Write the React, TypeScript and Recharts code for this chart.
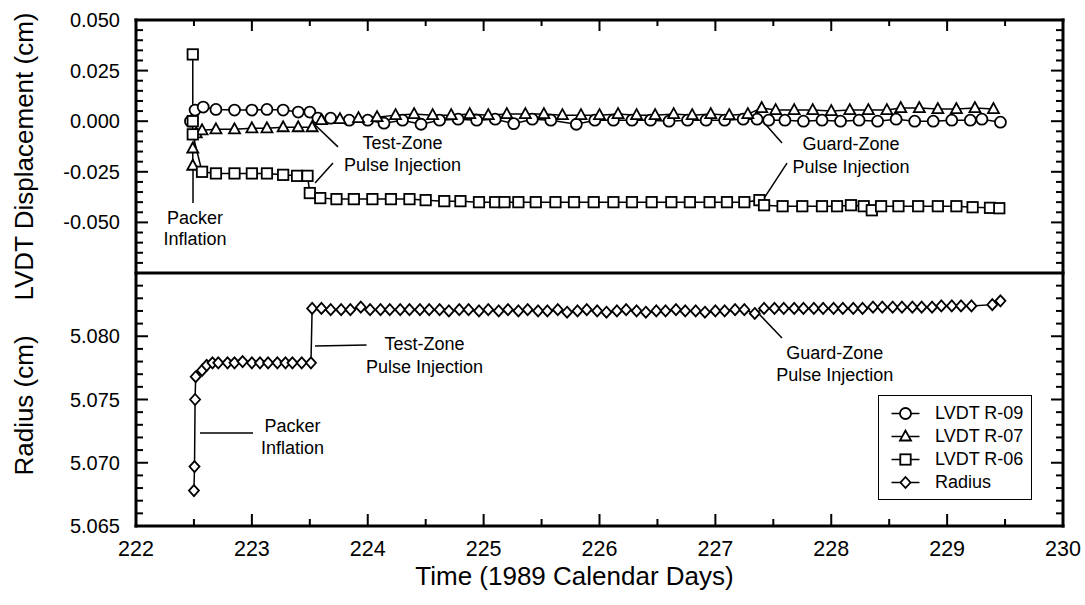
import React from 'react';
import { LineChart, Line, XAxis, YAxis, ReferenceLine, ReferenceDot, Legend } from 'recharts';

const FONT = '"Liberation Sans", Arial, Helvetica, sans-serif';

// ---- data (days are 1989 calendar days) ----
const r09Days = [
  222.47, 222.51, 222.58, 222.69, 222.85, 223.0, 223.13, 223.27, 223.4, 223.5,
  223.57, 223.68, 223.84, 224.0, 224.14, 224.3, 224.46, 224.62, 224.78, 224.94,
  225.1, 225.26, 225.42, 225.58, 225.8, 225.96, 226.12, 226.28, 226.44, 226.6,
  226.76, 226.92, 227.08, 227.24, 227.36, 227.46, 227.6, 227.76, 227.92, 228.08,
  228.24, 228.4, 228.56, 228.72, 228.88, 229.04, 229.2, 229.3, 229.46,
];
const r09Disp = [
  0.0, 0.0055, 0.007, 0.0058, 0.0055, 0.0055, 0.0058, 0.0055, 0.0045, 0.0045,
  0.0015, 0.0015, 0.0005, 0.0005, -0.001, 0.0005, -0.0015, 0.0005, 0.001, 0.0005,
  0.001, -0.0012, 0.001, 0.0005, -0.0015, 0.0005, 0.0005, 0.0005, 0.0005, 0.0,
  0.0005, 0.0005, 0.0005, 0.001, 0.001, 0.0005, 0.0005, 0.0, 0.0005, 0.0,
  0.0005, 0.0, 0.001, 0.0, 0.0, 0.0005, 0.0005, 0.001, -0.0005,
];

const r07Days = [
  222.49, 222.49, 222.52, 222.57, 222.69, 222.85, 223.0, 223.13, 223.27, 223.4, 223.52,
  223.6, 223.76, 223.92, 224.08, 224.24, 224.4, 224.56, 224.72, 224.88, 225.04,
  225.2, 225.36, 225.52, 225.68, 225.84, 226.0, 226.16, 226.32, 226.48, 226.64,
  226.8, 226.96, 227.12, 227.28, 227.4, 227.52, 227.68, 227.84, 228.0, 228.16,
  228.32, 228.48, 228.6, 228.76, 228.92, 229.08, 229.24, 229.4,
];
const r07Disp = [
  -0.022, -0.0135, -0.006, -0.0045, -0.004, -0.004, -0.0035, -0.0035, -0.003, -0.003, -0.003,
  0.0005, 0.001, 0.0015, 0.002, 0.003, 0.0035, 0.003, 0.003, 0.0035, 0.003,
  0.0035, 0.0035, 0.0035, 0.003, 0.003, 0.003, 0.0035, 0.003, 0.003, 0.0035,
  0.003, 0.0035, 0.003, 0.0035, 0.0065, 0.0055, 0.0055, 0.0055, 0.005, 0.0055,
  0.0055, 0.0055, 0.0065, 0.0065, 0.006, 0.006, 0.0065, 0.006,
];

const r06Days = [
  222.49, 222.49, 222.49, 222.57, 222.69, 222.85, 223.0, 223.13, 223.27, 223.39, 223.48, 223.5,
  223.59, 223.73, 223.88, 224.04, 224.2, 224.36, 224.5, 224.66, 224.8, 224.96,
  225.1, 225.18, 225.3, 225.45, 225.62, 225.78, 225.95, 226.12, 226.28, 226.45,
  226.62, 226.78, 226.95, 227.1, 227.25, 227.38, 227.42, 227.58, 227.75, 227.92,
  228.05, 228.17, 228.28, 228.35, 228.43, 228.58, 228.75, 228.92, 229.08, 229.22,
  229.37, 229.45,
];
const r06Disp = [
  0.033, 0.0, -0.0065, -0.025, -0.0258, -0.0258, -0.0258, -0.0258, -0.0265, -0.027, -0.027, -0.0355,
  -0.038, -0.0385, -0.0385, -0.0385, -0.0385, -0.0385, -0.039, -0.0395, -0.0395, -0.04,
  -0.04, -0.04, -0.04, -0.04, -0.04, -0.04, -0.04, -0.04, -0.04, -0.04,
  -0.04, -0.04, -0.04, -0.04, -0.04, -0.039, -0.0415, -0.042, -0.042, -0.042,
  -0.042, -0.0415, -0.042, -0.044, -0.042, -0.042, -0.042, -0.042, -0.042, -0.0425,
  -0.0428, -0.043,
];

const radiusDays = [
  222.5, 222.505, 222.51, 222.515, 222.57, 222.61, 222.66, 222.71, 222.79, 222.85,
  222.92, 223.0, 223.07, 223.14, 223.22, 223.29, 223.35, 223.43, 223.51,
  223.52, 223.6, 223.68, 223.77, 223.85, 223.94,
  224.02, 224.11, 224.19, 224.28, 224.36, 224.45, 224.53, 224.62, 224.7, 224.79, 224.87, 224.96,
  225.04, 225.13, 225.21, 225.3, 225.38, 225.47, 225.55, 225.64, 225.72, 225.81, 225.89, 225.98,
  226.06, 226.15, 226.23, 226.32, 226.4, 226.49, 226.57, 226.66, 226.74, 226.83, 226.91,
  227.0, 227.08, 227.17, 227.25, 227.34, 227.42, 227.51, 227.59, 227.68, 227.76, 227.85, 227.93,
  228.02, 228.1, 228.19, 228.27, 228.36, 228.44, 228.53, 228.61, 228.7, 228.78, 228.87, 228.95,
  229.04, 229.12, 229.21, 229.39, 229.46,
];
const radiusCm = [
  5.0678, 5.0697, 5.075, 5.0768, 5.0773, 5.0777, 5.0779, 5.0779, 5.0779, 5.0779,
  5.078, 5.0779, 5.0779, 5.0779, 5.0779, 5.0779, 5.0779, 5.0779, 5.0779,
  5.0822, 5.0822, 5.0821, 5.0821, 5.0821, 5.0823,
  5.0821, 5.0821, 5.0821, 5.0821, 5.0821, 5.0821, 5.0821, 5.0821, 5.082, 5.0821, 5.0821, 5.082,
  5.0821, 5.082, 5.0821, 5.082, 5.0821, 5.082, 5.082, 5.0821, 5.0819, 5.082, 5.0821, 5.082,
  5.0819, 5.082, 5.0821, 5.082, 5.0819, 5.082, 5.082, 5.0821, 5.082, 5.082, 5.0819,
  5.082, 5.082, 5.0821, 5.0821, 5.0818, 5.0822, 5.0822, 5.0822, 5.0822, 5.0822, 5.0822, 5.0822,
  5.0822, 5.0822, 5.0822, 5.0822, 5.0823, 5.0823, 5.0823, 5.0823, 5.0823, 5.0823, 5.0823, 5.0824,
  5.0824, 5.0824, 5.0824, 5.0825, 5.0828,
];

// tick labels
const dayLabels = [222, 223, 224, 225, 226, 227, 228, 229, 230];
const lvdtLabels = [0.05, 0.025, 0, -0.025, -0.05];
const radiusLabels = [5.065, 5.07, 5.075, 5.08];

// annotations (text centre / leader ends in data units)
const topNotes = [
  { x: 222.51, y: -0.0478, text: 'Packer' },
  { x: 222.51, y: -0.0582, text: 'Inflation' },
  { x: 224.3, y: -0.0103, text: 'Test-Zone' },
  { x: 224.3, y: -0.0216, text: 'Pulse Injection' },
  { x: 228.17, y: -0.0108, text: 'Guard-Zone' },
  { x: 228.17, y: -0.0226, text: 'Pulse Injection' },
];
const topLeaders = [
  [[222.492, -0.0225], [222.492, -0.0404]],
  [[223.528, -0.0009], [223.743, -0.0127]],
  [[223.7, -0.0207], [223.545, -0.0305]],
  [[227.4, 0.0006], [227.575, -0.0108]],
  [[227.618, -0.0207], [227.428, -0.0374]],
];
const bottomNotes = [
  { x: 223.35, y: 5.07298, text: 'Packer' },
  { x: 223.35, y: 5.07117, text: 'Inflation' },
  { x: 224.49, y: 5.07939, text: 'Test-Zone' },
  { x: 224.49, y: 5.07757, text: 'Pulse Injection' },
  { x: 228.03, y: 5.07868, text: 'Guard-Zone' },
  { x: 228.03, y: 5.07694, text: 'Pulse Injection' },
];
const bottomLeaders = [
  [[222.552, 5.07235], [223.01, 5.07235]],
  [[223.545, 5.07923], [223.99, 5.0793]],
  [[227.36, 5.08192], [227.575, 5.07986]],
];

const zip = (xs: number[], ys: number[]) => xs.map((t, i) => ({ t, v: ys[i] }));

const steps = (from: number, to: number, step: number) => {
  const out: number[] = [];
  for (let v = from; v <= to + step / 2; v += step) out.push(Math.round(v * 1e6) / 1e6);
  return out;
};
const dayTicks = steps(222, 230, 0.5);
const lvdtTicks = steps(-0.075, 0.05, 0.005);
const radiusTicks = steps(5.065, 5.085, 0.001);

const isIn = (v: number, list: number[]) => list.some((m) => Math.abs(m - v) < 1e-7);

const frame = { stroke: '#000', strokeWidth: 3, strokeLinecap: 'square' as const };
const tickStroke = { stroke: '#000', strokeWidth: 2 };

const LeftTick = ({ x, y, payload, labels, digits }: any) => {
  const major = isIn(payload.value, labels);
  return (
    <g>
      <line x1={x} x2={x + (major ? 12 : 7)} y1={y} y2={y} {...tickStroke} />
      {major && (
        <text x={x - 16} y={y + 7} textAnchor="end" fontSize={20} fontFamily={FONT} fill="#000">
          {payload.value.toFixed(digits)}
        </text>
      )}
    </g>
  );
};

const RightTick = ({ x, y, payload, labels }: any) => {
  const major = isIn(payload.value, labels);
  return <line x1={x} x2={x - (major ? 12 : 7)} y1={y} y2={y} {...tickStroke} />;
};

const TopTick = ({ x, y, payload }: any) => {
  const major = isIn(payload.value, dayLabels);
  return <line x1={x} x2={x} y1={y} y2={y + (major ? 11 : 6)} {...tickStroke} />;
};

const BottomTick = ({ x, y, payload }: any) => {
  const major = isIn(payload.value, dayLabels);
  return (
    <g>
      <line x1={x} x2={x} y1={y} y2={y - (major ? 12 : 7)} {...tickStroke} />
      {major && (
        <text x={x} y={y + 30} textAnchor="middle" fontSize={21.5} fontFamily={FONT} fill="#000">
          {payload.value}
        </text>
      )}
    </g>
  );
};

const yTitle = (text: string, dy: number) => (props: any) => {
  const vb = props.viewBox || { y: 0, height: 0 };
  const cx = 33;
  const cy = vb.y + vb.height / 2 + dy;
  return (
    <text x={cx} y={cy} transform={`rotate(-90 ${cx} ${cy})`} textAnchor="middle" fontSize={26} fontFamily={FONT} fill="#000">
      {text}
    </text>
  );
};

const xTitle = (props: any) => {
  const vb = props.viewBox || { x: 0, y: 0, width: 0 };
  return (
    <text x={vb.x + vb.width / 2 - 25} y={vb.y + 59} textAnchor="middle" fontSize={26} fontFamily={FONT} fill="#000">
      Time (1989 Calendar Days)
    </text>
  );
};

const Marker = ({ cx, cy, kind }: any) => {
  if (cx == null || cy == null) return null;
  const s = { fill: '#fff', stroke: '#000', strokeWidth: 1.8 };
  if (kind === 'circle') return <circle cx={cx} cy={cy} r={5.5} {...s} />;
  if (kind === 'triangle')
    return <polygon points={`${cx},${cy - 6} ${cx - 5.5},${cy + 4} ${cx + 5.5},${cy + 4}`} {...s} />;
  if (kind === 'square') return <rect x={cx - 5.2} y={cy - 5.2} width={10.4} height={10.4} {...s} />;
  return <polygon points={`${cx},${cy - 5.5} ${cx + 5},${cy} ${cx},${cy + 5.5} ${cx - 5},${cy}`} {...s} />;
};

const dotOf = (kind: string) => (p: any) => <Marker key={`${kind}-${p.index}`} cx={p.cx} cy={p.cy} kind={kind} />;

const noteShape = (text: string) => (p: any) => (
  <text x={p.cx} y={p.cy + 6.5} textAnchor="middle" fontSize={18} fontFamily={FONT} fill="#000">
    {text}
  </text>
);

const legendItems = [
  { name: 'LVDT R-09', kind: 'circle' },
  { name: 'LVDT R-07', kind: 'triangle' },
  { name: 'LVDT R-06', kind: 'square' },
  { name: 'Radius', kind: 'diamond' },
];

const LegendBox = () => (
  <div
    style={{
      width: 154,
      height: 105,
      border: '1.5px solid #000',
      boxSizing: 'border-box',
      background: '#fff',
      paddingTop: 6,
      fontFamily: FONT,
      fontSize: 18,
      color: '#000',
    }}
  >
    {legendItems.map((it) => (
      <div key={it.name} style={{ display: 'flex', alignItems: 'center', height: 23 }}>
        <svg width={56} height={23} style={{ display: 'block' }}>
          <line x1={12.5} x2={40.5} y1={11.5} y2={11.5} stroke="#000" strokeWidth={1.5} />
          <Marker cx={26.5} cy={11.5} kind={it.kind} />
        </svg>
        <span style={{ lineHeight: '23px' }}>{it.name}</span>
      </div>
    ))}
  </div>
);

const line = { stroke: '#000', strokeWidth: 1.5 };

const App: React.FC = () => {
  return (
    <div style={{ position: 'absolute', left: 0, top: 0, width: 1085, height: 605, background: '#fff' }}>
      <div style={{ position: 'absolute', left: 0, top: 0 }}>
        <LineChart width={1085} height={320} margin={{ top: 10, right: 12, bottom: 47, left: 0 }}>
          <XAxis
            xAxisId="x"
            orientation="top"
            type="number"
            dataKey="t"
            domain={[222, 230]}
            allowDataOverflow
            ticks={dayTicks}
            interval={0}
            height={10}
            tickSize={0}
            tickMargin={0}
            tickLine={false}
            tick={(p: any) => <TopTick {...p} />}
            axisLine={frame}
          />
          <YAxis
            yAxisId="l"
            type="number"
            domain={[-0.075, 0.05]}
            allowDataOverflow
            ticks={lvdtTicks}
            interval={0}
            width={136}
            tickSize={0}
            tickMargin={0}
            tickLine={false}
            tick={(p: any) => <LeftTick {...p} labels={lvdtLabels} digits={3} />}
            axisLine={frame}
            label={{ content: yTitle('LVDT Displacement (cm)', 10) }}
          />
          <YAxis
            yAxisId="r"
            orientation="right"
            type="number"
            domain={[-0.075, 0.05]}
            allowDataOverflow
            ticks={lvdtTicks}
            interval={0}
            width={10}
            tickSize={0}
            tickMargin={0}
            tickLine={false}
            tick={(p: any) => <RightTick {...p} labels={lvdtLabels} />}
            axisLine={frame}
          />
          {topLeaders.map((seg, i) => (
            <ReferenceLine
              key={`tl${i}`}
              xAxisId="x"
              yAxisId="l"
              segment={[{ x: seg[0][0], y: seg[0][1] }, { x: seg[1][0], y: seg[1][1] }]}
              stroke="#000"
              strokeWidth={1.5}
              ifOverflow="visible"
            />
          ))}
          <Line xAxisId="x" yAxisId="l" data={zip(r09Days, r09Disp)} dataKey="v" name="LVDT R-09" {...line} dot={dotOf('circle')} activeDot={false} isAnimationActive={false} />
          <Line xAxisId="x" yAxisId="l" data={zip(r07Days, r07Disp)} dataKey="v" name="LVDT R-07" {...line} dot={dotOf('triangle')} activeDot={false} isAnimationActive={false} />
          <Line xAxisId="x" yAxisId="l" data={zip(r06Days, r06Disp)} dataKey="v" name="LVDT R-06" {...line} dot={dotOf('square')} activeDot={false} isAnimationActive={false} />
          {topNotes.map((n, i) => (
            <ReferenceDot key={`tn${i}`} xAxisId="x" yAxisId="l" x={n.x} y={n.y} r={1} ifOverflow="visible" shape={noteShape(n.text)} />
          ))}
        </LineChart>
      </div>
      <div style={{ position: 'absolute', left: 0, top: 0 }}>
        <LineChart width={1085} height={605} margin={{ top: 273, right: 12, bottom: 0, left: 0 }}>
          <XAxis
            xAxisId="x"
            type="number"
            dataKey="t"
            domain={[222, 230]}
            allowDataOverflow
            ticks={dayTicks}
            interval={0}
            height={79}
            tickSize={0}
            tickMargin={0}
            tickLine={false}
            tick={(p: any) => <BottomTick {...p} />}
            axisLine={frame}
            label={{ content: xTitle }}
          />
          <YAxis
            yAxisId="l"
            type="number"
            domain={[5.065, 5.085]}
            allowDataOverflow
            ticks={radiusTicks}
            interval={0}
            width={136}
            tickSize={0}
            tickMargin={0}
            tickLine={false}
            tick={(p: any) => <LeftTick {...p} labels={radiusLabels} digits={3} />}
            axisLine={frame}
            label={{ content: yTitle('Radius (cm)', 6) }}
          />
          <YAxis
            yAxisId="r"
            orientation="right"
            type="number"
            domain={[5.065, 5.085]}
            allowDataOverflow
            ticks={radiusTicks}
            interval={0}
            width={10}
            tickSize={0}
            tickMargin={0}
            tickLine={false}
            tick={(p: any) => <RightTick {...p} labels={radiusLabels} />}
            axisLine={frame}
          />
          <ReferenceLine xAxisId="x" yAxisId="l" y={5.085} stroke="#000" strokeWidth={3} ifOverflow="visible" />
          {bottomLeaders.map((seg, i) => (
            <ReferenceLine
              key={`bl${i}`}
              xAxisId="x"
              yAxisId="l"
              segment={[{ x: seg[0][0], y: seg[0][1] }, { x: seg[1][0], y: seg[1][1] }]}
              stroke="#000"
              strokeWidth={1.5}
              ifOverflow="visible"
            />
          ))}
          <Line xAxisId="x" yAxisId="l" data={zip(radiusDays, radiusCm)} dataKey="v" name="Radius" {...line} dot={dotOf('diamond')} activeDot={false} isAnimationActive={false} />
          {bottomNotes.map((n, i) => (
            <ReferenceDot key={`bn${i}`} xAxisId="x" yAxisId="l" x={n.x} y={n.y} r={1} ifOverflow="visible" shape={noteShape(n.text)} />
          ))}
          <Legend
            layout="vertical"
            align="center"
            verticalAlign="middle"
            wrapperStyle={{ left: 878, top: 395, width: 154, height: 105 }}
            content={() => <LegendBox />}
          />
        </LineChart>
      </div>
    </div>
  );
};

export default App;
